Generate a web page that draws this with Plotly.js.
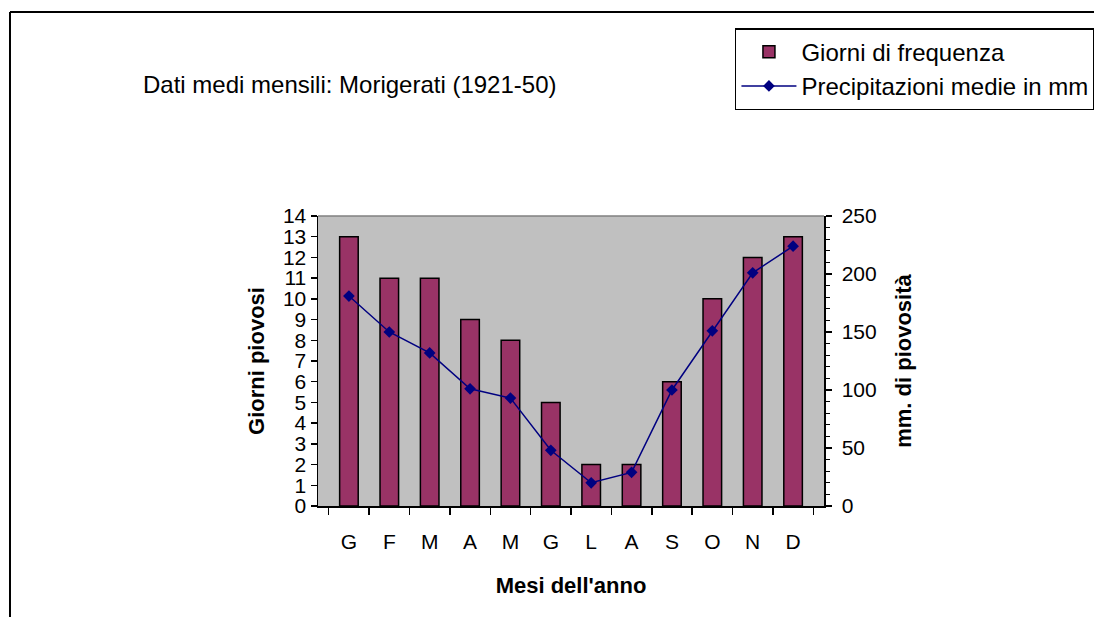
<!DOCTYPE html>
<html>
<head>
<meta charset="utf-8">
<script src="https://cdn.plot.ly/plotly-3.0.1.min.js"></script>
<style>html,body{margin:0;padding:0;background:#fff;}#chart{width:1094px;height:617px;}</style>
</head>
<body>
<div id="chart"></div>
<script>
// Data
const months = ["Gennaio","Febbraio","Marzo","Aprile","Maggio","Giugno","Luglio","Agosto","Settembre","Ottobre","Novembre","Dicembre"];
const monthLabels = ["G","F","M","A","M","G","L","A","S","O","N","D"];
const giorniPiovosi = [13, 11, 11, 9, 8, 5, 2, 2, 6, 10, 12, 13];
const precipitazioniMm = [181, 150, 132, 101, 93, 48, 20, 29, 100, 151, 201, 224];

const FONT = "Liberation Sans, Arial, sans-serif";
const FS = 21;   // tick labels
const FT = 22;   // axis titles
const FL = 24;   // legend and subtitle

const traces = [
  {
    type: "bar",
    name: "Giorni di frequenza",
    legendgroup: "a",
    x: months,
    y: giorniPiovosi,
    yaxis: "y",
    width: 0.46,
    marker: { color: "#993366", line: { color: "#000000", width: 1.5 } }
  },
  {
    type: "scatter",
    mode: "lines+markers",
    name: "Precipitazioni medie in mm",
    legendgroup: "b",
    x: months,
    y: precipitazioniMm,
    yaxis: "y2",
    line: { color: "#000080", width: 1.5 },
    marker: { symbol: "diamond", size: 9, color: "#000080" }
  }
];

const layout = {
  width: 1094,
  height: 617,
  margin: { l: 318, r: 270, t: 216, b: 111, autoexpand: false },
  paper_bgcolor: "#ffffff",
  plot_bgcolor: "#c0c0c0",
  font: { family: FONT, size: FS, color: "#000000" },
  showlegend: true,
  legend: {
    x: 0.824, y: 1.648, xanchor: "left", yanchor: "top",
    bgcolor: "#ffffff", bordercolor: "#000000", borderwidth: 1.5,
    font: { family: FONT, size: FL, color: "#000000" },
    traceorder: "grouped", tracegroupgap: 0, itemwidth: 55
  },
  xaxis: {
    type: "category",
    categoryorder: "array",
    categoryarray: months,
    tickvals: months,
    ticktext: monthLabels,
    tickson: "boundaries",
    ticks: "outside", ticklen: 7, tickcolor: "#000000", tickwidth: 1.5,
    ticklabelstandoff: 16,
    showline: true, linecolor: "#000000", linewidth: 1.5,
    showgrid: false, zeroline: false,
    tickfont: { family: FONT, size: FS },
    title: { text: "Mesi dell'anno", font: { family: FONT, size: FT, weight: "bold" }, standoff: 26 }
  },
  yaxis: {
    range: [0, 14], dtick: 1, tick0: 0,
    ticks: "outside", ticklen: 6, tickcolor: "#000000", tickwidth: 1.5,
    showline: true, linecolor: "#000000", linewidth: 1.5,
    showgrid: false, zeroline: false,
    tickfont: { family: FONT, size: FS },
    title: { text: "Giorni piovosi", font: { family: FONT, size: FT, weight: "bold" }, standoff: 12 }
  },
  yaxis2: {
    overlaying: "y", side: "right",
    range: [0, 250], dtick: 50, tick0: 0,
    ticks: "outside", ticklen: 6, tickcolor: "#000000", tickwidth: 1.5,
    minor: { dtick: 10, ticks: "outside", ticklen: 4, tickcolor: "#000000", tickwidth: 1.2, showgrid: false },
    ticklabelstandoff: 6,
    showline: true, linecolor: "#000000", linewidth: 1.5,
    showgrid: false, zeroline: false,
    tickfont: { family: FONT, size: FS },
    title: { text: "mm. di piovosità", font: { family: FONT, size: FT, weight: "bold" }, standoff: 20 }
  },
  shapes: [
    { type: "line", xref: "paper", yref: "paper", x0: 0, x1: 1, y0: 1, y1: 1, line: { color: "#808080", width: 1.5 } },
    { type: "line", xref: "paper", yref: "paper", x0: -0.6087, x1: -0.6087, y0: -0.40, y1: 1.7034, line: { color: "#000000", width: 2 } },
    { type: "line", xref: "paper", yref: "paper", x0: -0.6087, x1: 1.56, y0: 1.7034, y1: 1.7034, line: { color: "#000000", width: 2 } }
  ],
  annotations: [
    { text: "Dati medi mensili: Morigerati (1921-50)", xref: "paper", yref: "paper", x: 0.0632, y: 1.4534, xanchor: "center", yanchor: "middle", showarrow: false, font: { family: FONT, size: FL, color: "#000000" } }
  ]
};

Plotly.newPlot("chart", traces, layout, { displayModeBar: false, staticPlot: true });
</script>
</body>
</html>
